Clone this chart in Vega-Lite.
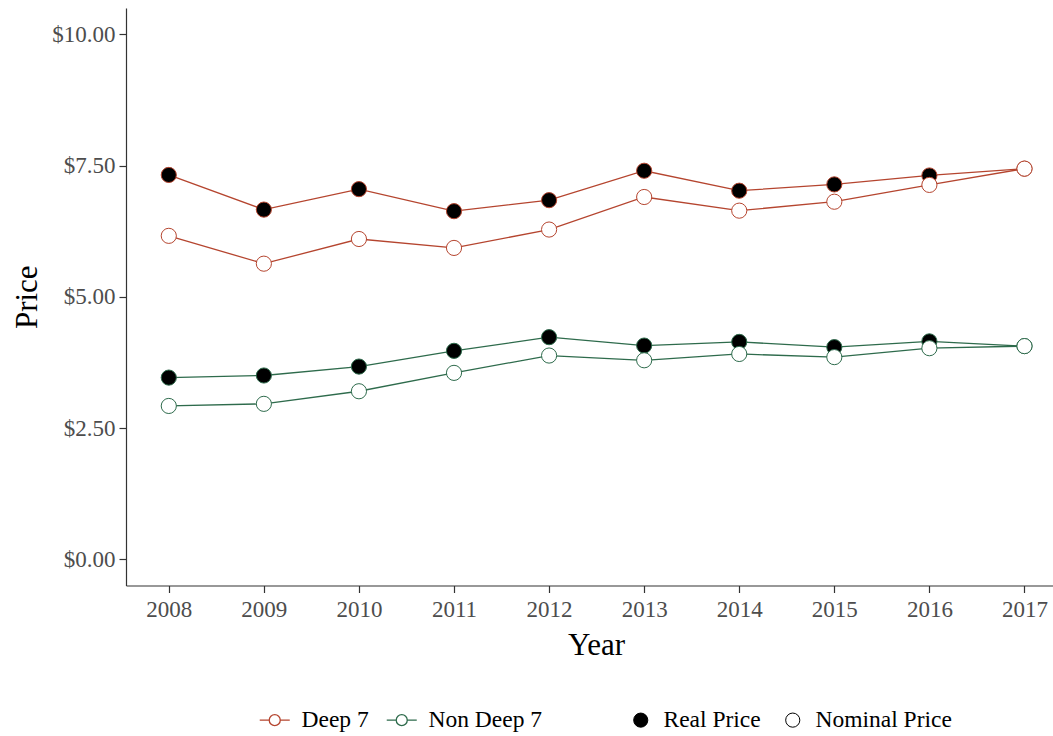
{
  "$schema": "https://vega.github.io/schema/vega-lite/v6.json",
  "width": 927,
  "height": 577.5,
  "autosize": {"type": "none"},
  "padding": {"left": 126, "top": 8, "right": 0, "bottom": 150.5},
  "background": "white",
  "config": {
    "view": {"stroke": null},
    "font": "Liberation Serif",
    "axis": {
      "grid": false,
      "domainColor": "#333333",
      "domainWidth": 1.2,
      "tickColor": "#333333",
      "tickWidth": 1.2,
      "tickSize": 7,
      "labelColor": "#4D4D4D",
      "labelFont": "Liberation Serif",
      "labelFontSize": 23,
      "titleFont": "Liberation Serif",
      "titleFontSize": 31,
      "titleFontWeight": "normal",
      "titleColor": "black"
    },
    "legend": {
      "labelFont": "Liberation Serif",
      "labelFontSize": 23.5,
      "labelColor": "black",
      "padding": 0
    }
  },
  "data": {
    "values": [
      {"year": 2008, "group": "Deep 7", "type": "Real Price", "price": 7.32},
      {"year": 2009, "group": "Deep 7", "type": "Real Price", "price": 6.66},
      {"year": 2010, "group": "Deep 7", "type": "Real Price", "price": 7.05},
      {"year": 2011, "group": "Deep 7", "type": "Real Price", "price": 6.63},
      {"year": 2012, "group": "Deep 7", "type": "Real Price", "price": 6.84},
      {"year": 2013, "group": "Deep 7", "type": "Real Price", "price": 7.40},
      {"year": 2014, "group": "Deep 7", "type": "Real Price", "price": 7.02},
      {"year": 2015, "group": "Deep 7", "type": "Real Price", "price": 7.14},
      {"year": 2016, "group": "Deep 7", "type": "Real Price", "price": 7.31},
      {"year": 2017, "group": "Deep 7", "type": "Real Price", "price": 7.44},
      {"year": 2008, "group": "Non Deep 7", "type": "Real Price", "price": 3.46},
      {"year": 2009, "group": "Non Deep 7", "type": "Real Price", "price": 3.50},
      {"year": 2010, "group": "Non Deep 7", "type": "Real Price", "price": 3.67},
      {"year": 2011, "group": "Non Deep 7", "type": "Real Price", "price": 3.97},
      {"year": 2012, "group": "Non Deep 7", "type": "Real Price", "price": 4.23},
      {"year": 2013, "group": "Non Deep 7", "type": "Real Price", "price": 4.07},
      {"year": 2014, "group": "Non Deep 7", "type": "Real Price", "price": 4.14},
      {"year": 2015, "group": "Non Deep 7", "type": "Real Price", "price": 4.04},
      {"year": 2016, "group": "Non Deep 7", "type": "Real Price", "price": 4.15},
      {"year": 2017, "group": "Non Deep 7", "type": "Real Price", "price": 4.06},
      {"year": 2008, "group": "Deep 7", "type": "Nominal Price", "price": 6.16},
      {"year": 2009, "group": "Deep 7", "type": "Nominal Price", "price": 5.63},
      {"year": 2010, "group": "Deep 7", "type": "Nominal Price", "price": 6.10},
      {"year": 2011, "group": "Deep 7", "type": "Nominal Price", "price": 5.93},
      {"year": 2012, "group": "Deep 7", "type": "Nominal Price", "price": 6.28},
      {"year": 2013, "group": "Deep 7", "type": "Nominal Price", "price": 6.90},
      {"year": 2014, "group": "Deep 7", "type": "Nominal Price", "price": 6.64},
      {"year": 2015, "group": "Deep 7", "type": "Nominal Price", "price": 6.81},
      {"year": 2016, "group": "Deep 7", "type": "Nominal Price", "price": 7.13},
      {"year": 2017, "group": "Deep 7", "type": "Nominal Price", "price": 7.44},
      {"year": 2008, "group": "Non Deep 7", "type": "Nominal Price", "price": 2.92},
      {"year": 2009, "group": "Non Deep 7", "type": "Nominal Price", "price": 2.96},
      {"year": 2010, "group": "Non Deep 7", "type": "Nominal Price", "price": 3.20},
      {"year": 2011, "group": "Non Deep 7", "type": "Nominal Price", "price": 3.55},
      {"year": 2012, "group": "Non Deep 7", "type": "Nominal Price", "price": 3.88},
      {"year": 2013, "group": "Non Deep 7", "type": "Nominal Price", "price": 3.79},
      {"year": 2014, "group": "Non Deep 7", "type": "Nominal Price", "price": 3.91},
      {"year": 2015, "group": "Non Deep 7", "type": "Nominal Price", "price": 3.85},
      {"year": 2016, "group": "Non Deep 7", "type": "Nominal Price", "price": 4.02},
      {"year": 2017, "group": "Non Deep 7", "type": "Nominal Price", "price": 4.06}
    ]
  },
  "encoding": {
    "x": {
      "field": "year",
      "type": "quantitative",
      "scale": {"domain": [2007.55, 2017.3], "nice": false, "zero": false},
      "axis": {
        "title": "Year",
        "values": [2008, 2009, 2010, 2011, 2012, 2013, 2014, 2015, 2016, 2017],
        "format": "d",
        "labelPadding": 6,
        "titlePadding": 9,
        "titleX": 470,
        "titleAnchor": "middle"
      }
    },
    "y": {
      "field": "price",
      "type": "quantitative",
      "scale": {"domain": [-0.5, 10.5], "nice": false, "zero": false},
      "axis": {
        "title": "Price",
        "values": [0, 2.5, 5, 7.5, 10],
        "format": "$.2f",
        "labelPadding": 4,
        "titlePadding": 8
      }
    },
    "stroke": {
      "field": "group",
      "type": "nominal",
      "scale": {"domain": ["Deep 7", "Non Deep 7"], "range": ["#B5452F", "#2E6B4C"]},
      "legend": {
        "title": null,
        "orient": "none",
        "direction": "horizontal",
        "legendX": 137,
        "legendY": 700,
        "symbolType": "M-2.73,0H-1M1,0H2.73M-1,0A1,1,0,1,1,1,0A1,1,0,1,1,-1,0Z",
        "symbolSize": 121,
        "symbolStrokeWidth": 1.3,
        "labelOffset": 15,
        "columnPadding": 15,
        "encode": {"symbols": {"update": {"fill": {"value": "white"}, "opacity": {"value": 1}}}}
      }
    }
  },
  "layer": [
    {
      "mark": {"type": "line", "strokeWidth": 1.3},
      "encoding": {"detail": {"field": "type"}}
    },
    {
      "mark": {"type": "circle", "size": 230, "strokeWidth": 1, "opacity": 1},
      "encoding": {
        "fill": {
          "field": "type",
          "type": "nominal",
          "scale": {"domain": ["Real Price", "Nominal Price"], "range": ["black", "white"]},
          "legend": {
            "title": null,
            "orient": "none",
            "direction": "horizontal",
            "legendX": 503,
            "legendY": 700,
            "symbolType": "circle",
            "symbolSize": 200,
            "symbolStrokeColor": "black",
            "symbolStrokeWidth": 1,
            "labelOffset": 11,
            "columnPadding": 20
          }
        }
      }
    }
  ]
}
